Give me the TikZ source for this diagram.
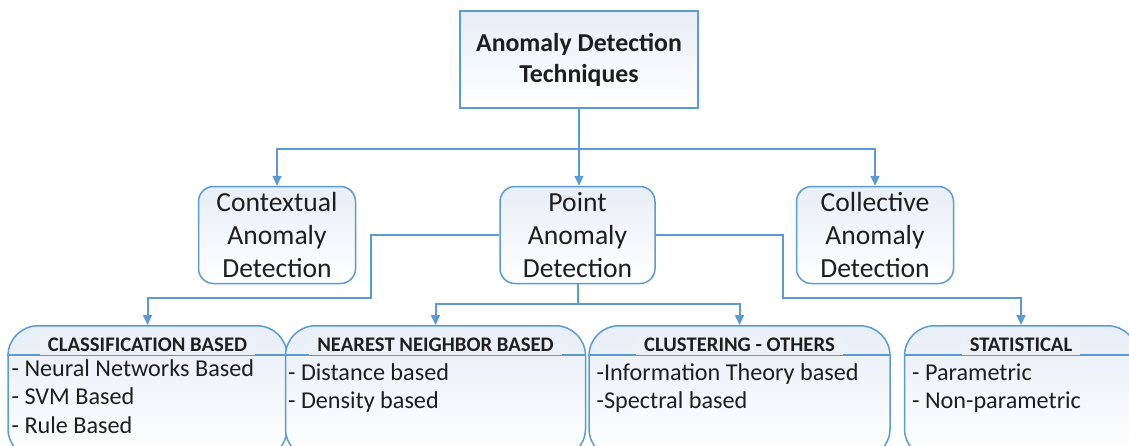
\documentclass[tikz,border=0pt]{standalone}
\usepackage{fontspec}
\setmainfont{Carlito}
\usetikzlibrary{arrows.meta, positioning}
\definecolor{lineblue}{RGB}{91,155,213}
\definecolor{boxtint}{RGB}{232,238,247}
\definecolor{hdrtint}{RGB}{236,240,247}
\definecolor{textdark}{RGB}{30,30,30}

\begin{document}
\begin{tikzpicture}[
    box/.style={rectangle, draw=lineblue, line width=0.75pt, top color=boxtint, bottom color=white, text=textdark, align=center, inner sep=0pt},
    midbox/.style={box, rounded corners=7.5pt, minimum width=78.5pt, minimum height=48.5pt, font=\fontsize{13.8}{16.5}\selectfont},
    groupbox/.style={box, rounded corners=15pt, minimum height=66.5pt, anchor=north},
    header/.style={fill=hdrtint, text=textdark, anchor=south, inner xsep=4pt, inner ysep=1.5pt, font=\fontsize{10.35}{12}\selectfont\bfseries},
    items/.style={text=textdark, anchor=north west, align=left, inner sep=0pt, font=\fontsize{12.1}{14.25}\selectfont},
    conn/.style={draw=lineblue, line width=1pt, -{Triangle[width=4.5pt,length=5pt]}},
    link/.style={draw=lineblue, line width=1pt}
]
    \useasboundingbox (0,0) rectangle (564.5pt,-222.5pt);
    \clip (0,0) rectangle (564.5pt,-222.5pt);

    % top level
    \node [box, minimum width=119pt, minimum height=48.5pt, font=\fontsize{12.9}{15.5}\selectfont\bfseries] (top) at (289.5pt,-29.75pt) {Anomaly Detection\\Techniques};

    % anomaly kinds
    \node [midbox, minimum width=77.5pt, below=38.5pt of top, xshift=-0.75pt] (point) {Point\\Anomaly\\Detection};
    \node [midbox, left=71.5pt of point] (ctx) {Contextual\\Anomaly\\Detection};
    \node [midbox, right=70pt of point] (coll) {Collective\\Anomaly\\Detection};

    % technique groups
    \node [groupbox, minimum width=139.5pt] (cls) at (73.75pt,-162.5pt) {};
    \node [groupbox, minimum width=150pt, right=-1.5pt of cls] (nn) {};
    \node [groupbox, minimum width=150.5pt, right=1pt of nn] (clu) {};
    \node [groupbox, minimum width=116.5pt, right=6.5pt of clu] (sta) {};

    \foreach \g in {cls, nn, clu, sta}
        \draw [draw=lineblue, line width=0.75pt] ([yshift=-15pt]\g.north west) -- ([yshift=-15pt]\g.north east);

    \node [header] (clsHead) at ([yshift=-15pt]cls.north) {CLASSIFICATION BASED};
    \node [header] (nnHead) at ([yshift=-15pt]nn.north) {NEAREST NEIGHBOR BASED};
    \node [header] (cluHead) at ([yshift=-15pt]clu.north) {CLUSTERING - OTHERS};
    \node [header] (staHead) at ([yshift=-15pt]sta.north) {STATISTICAL};

    \node [items] (clsItems) at ([xshift=2pt, yshift=-17pt]cls.north west) {- Neural Networks Based\\- SVM Based\\- Rule Based};
    \node [items] (nnItems) at ([xshift=1.5pt, yshift=-19pt]nn.north west) {- Distance based\\- Density based};
    \node [items] (cluItems) at ([xshift=4pt, yshift=-19pt]clu.north west) {-Information Theory based\\-Spectral based};
    \node [items] (staItems) at ([xshift=4pt, yshift=-19pt]sta.north west) {- Parametric\\- Non-parametric};

    % connectors
    \coordinate (topSplit) at ([yshift=-20pt]top.south);
    \draw [link] (top.south) -- (topSplit);
    \draw [conn] (topSplit) -| (ctx.north);
    \draw [conn] (topSplit) -| (coll.north);
    \draw [conn] (topSplit) -- (topSplit |- point.north);

    \coordinate (leftBend) at ([xshift=-64pt]point.west);
    \coordinate (rightBend) at ([xshift=63.5pt]point.east);
    \coordinate (midSplit) at ([yshift=-10pt]point.south);
    \draw [conn] (point.west) -- (leftBend) |- ([yshift=13.5pt]cls.north) -- (cls.north);
    \draw [conn] (point.east) -- (rightBend) |- ([yshift=13.5pt]sta.north) -- (sta.north);
    \draw [link] (point.south) -- (midSplit);
    \draw [conn] (midSplit) -| (nn.north);
    \draw [conn] (midSplit) -| (clu.north);
\end{tikzpicture}
\end{document}
